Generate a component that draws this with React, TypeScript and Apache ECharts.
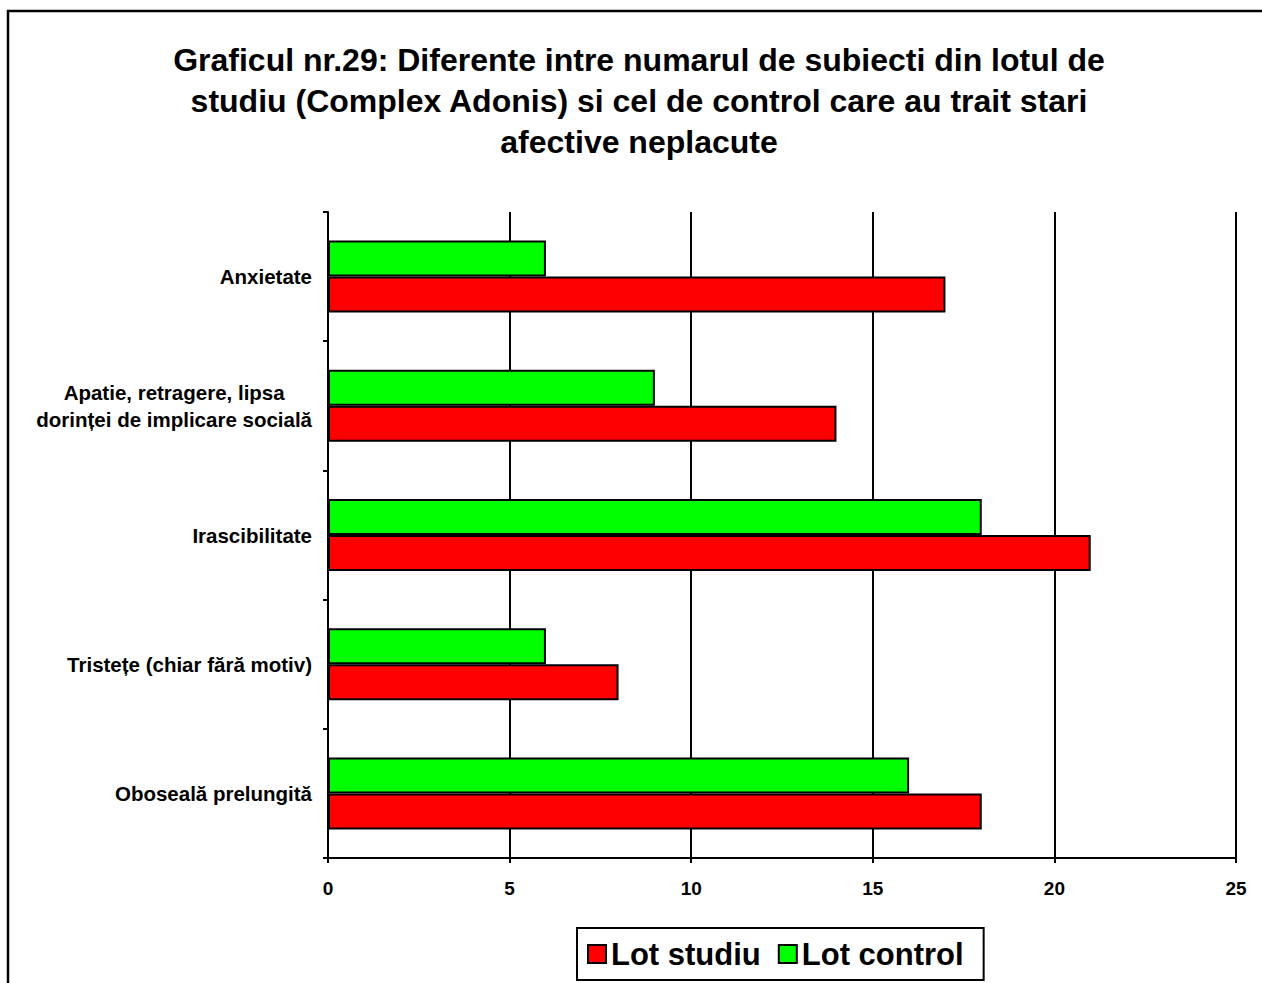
import React, { useEffect, useRef } from "react";
import * as echarts from "echarts";

const titleLines = [
  "Graficul nr.29: Diferente intre numarul de subiecti din lotul de",
  "studiu (Complex Adonis) si cel de control care au trait stari",
  "afective neplacute",
];

// bottom-to-top order (first category drawn at the bottom)
const categories = [
  "Oboseală prelungită",
  "Tristețe (chiar fără motiv)",
  "Irascibilitate",
  "Apatie, retragere, lipsa\ndorinței de implicare socială",
  "Anxietate",
];
const lotStudiu = [18, 8, 21, 14, 17];
const lotControl = [16, 6, 18, 9, 6];
const seriesNames = ["Lot studiu", "Lot control"];
const xTicks = { min: 0, max: 25, interval: 5 };

const FONT = '"Liberation Sans", Arial, sans-serif';

export default function App() {
  const ref = useRef<HTMLDivElement>(null);
  useEffect(() => {
    if (!ref.current) return;
    const chart = echarts.init(ref.current, null, { renderer: "svg" });
    chart.setOption({
      animation: false,
      backgroundColor: "#fff",
      textStyle: { fontFamily: FONT },
      graphic: [
        {
          type: "rect",
          shape: { x: 8, y: 11, width: 1270, height: 1000 },
          style: { fill: "none", stroke: "#000", lineWidth: 2.5 },
          silent: true,
        },
        {
          type: "text",
          x: 639,
          y: 39,
          style: {
            text: titleLines.join("\n"),
            font: `bold 32px ${FONT}`,
            fill: "#000",
            textAlign: "center",
            align: "center",
            textVerticalAlign: "top",
            verticalAlign: "top",
            lineHeight: 41,
          },
        },
      ],
      legend: {
        left: 577,
        top: 928,
        padding: [10, 20, 10, 10],
        itemGap: 17,
        itemWidth: 18,
        itemHeight: 18,
        icon: "rect",
        borderColor: "#000",
        borderWidth: 2,
        data: seriesNames,
        itemStyle: { borderColor: "#000", borderWidth: 2 },
        textStyle: { fontSize: 31, fontWeight: "bold", color: "#000", fontFamily: FONT, lineHeight: 32 },
      },
      grid: { left: 328, top: 212, width: 908, height: 646, containLabel: false },
      xAxis: {
        type: "value",
        min: xTicks.min,
        max: xTicks.max,
        interval: xTicks.interval,
        axisLine: { show: true, lineStyle: { color: "#000", width: 2 } },
        axisTick: { show: true, length: 5, lineStyle: { color: "#000", width: 2 } },
        splitLine: { show: true, lineStyle: { color: "#000", width: 2 } },
        axisLabel: {
          color: "#000",
          fontSize: 19,
          fontWeight: "bold",
          fontFamily: FONT,
          margin: 21,
        },
      },
      yAxis: {
        type: "category",
        data: categories,
        axisLine: { show: true, lineStyle: { color: "#000", width: 2 } },
        axisTick: { show: true, length: 5, lineStyle: { color: "#000", width: 2 } },
        axisLabel: {
          color: "#000",
          fontSize: 20.5,
          fontWeight: "bold",
          fontFamily: FONT,
          margin: 16,
          lineHeight: 27,
          formatter: (v: string) =>
            v
              .split("\n")
              .map((l) => `{c|${l}}`)
              .join("\n"),
          rich: {
            c: {
              align: "center",
              fontSize: 20.5,
              fontWeight: "bold",
              fontFamily: FONT,
              color: "#000",
              lineHeight: 27,
            },
          },
        },
      },
      series: [
        {
          name: seriesNames[1],
          type: "bar",
          data: lotControl,
          barWidth: 36,
          barGap: "0%",
          itemStyle: { color: "#00ff00", borderColor: "#000", borderWidth: 2 },
        },
        {
          name: seriesNames[0],
          type: "bar",
          data: lotStudiu,
          barWidth: 36,
          barGap: "0%",
          itemStyle: { color: "#ff0000", borderColor: "#000", borderWidth: 2 },
        },
      ],
    });
    return () => chart.dispose();
  }, []);
  return (
    <div
      ref={ref}
      style={{ position: "absolute", left: 0, top: 0, width: 1262, height: 983 }}
    />
  );
}
